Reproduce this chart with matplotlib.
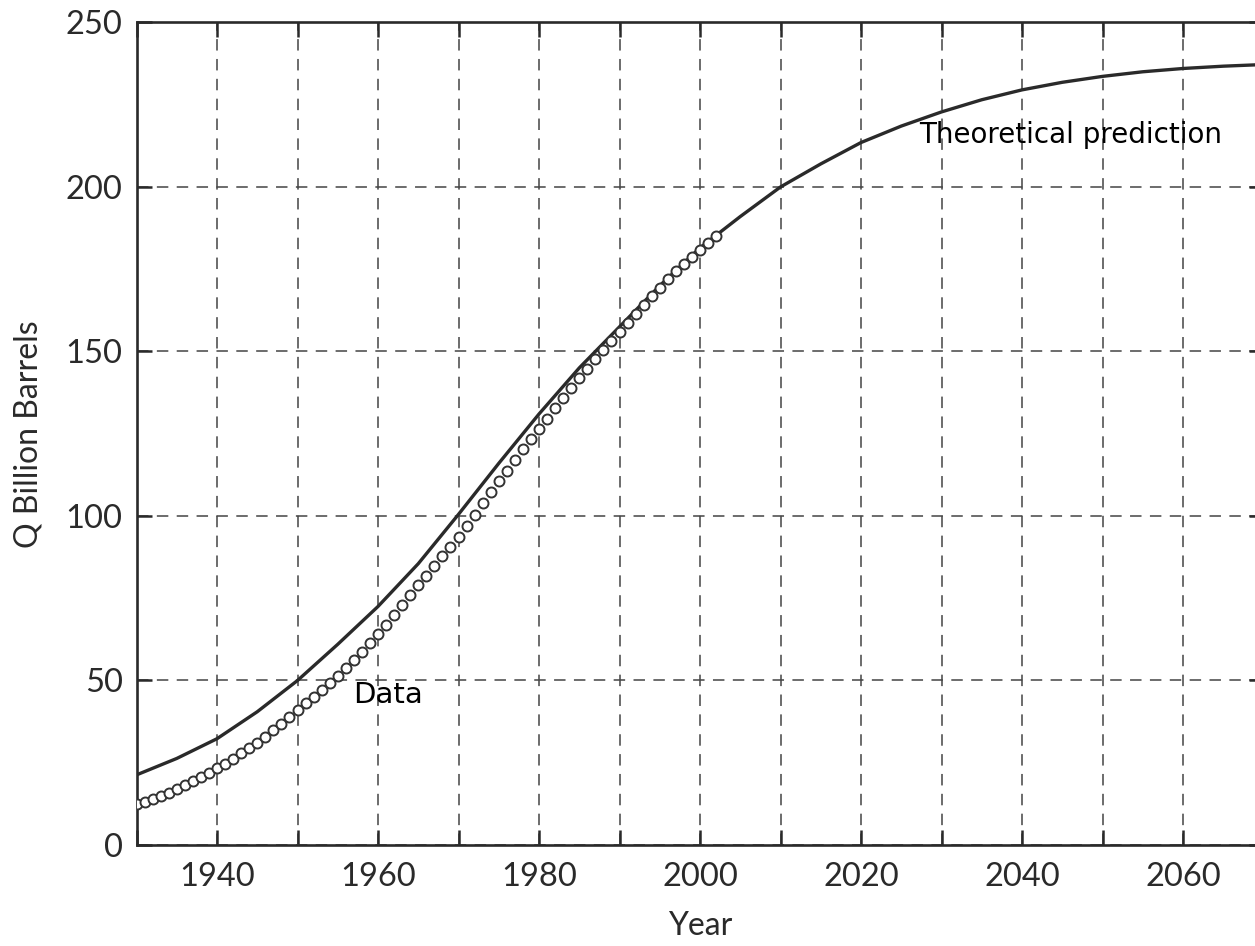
import numpy as np
import matplotlib.pyplot as plt

# Cumulative production data (one point per year, 1930-2002)
data_years = np.arange(1930, 2003)
data_q = [12.4, 13.2, 14.0, 14.9, 15.9, 17.0, 18.1, 19.3, 20.6, 21.9,
          23.3, 24.7, 26.2, 27.8, 29.4, 31.1, 32.9, 34.8, 36.8, 38.9,
          41.0, 43.0, 45.0, 47.1, 49.3, 51.5, 53.8, 56.2, 58.7, 61.3,
          64.0, 66.9, 69.8, 72.8, 75.9, 79.0, 81.9, 84.8, 87.7, 90.6,
          93.6, 97.0, 100.4, 103.8, 107.2, 110.6, 113.8, 117.0, 120.2, 123.4,
          126.5, 129.6, 132.7, 135.8, 138.9, 141.9, 144.8, 147.6, 150.4, 153.2,
          156.0, 158.7, 161.4, 164.1, 166.8, 169.4, 171.9, 174.3, 176.6, 178.8,
          180.9, 183.0, 185.0]

# Theoretical prediction (read every 5 years)
theory_years = np.arange(1930, 2075, 5)
theory_q = [21.3, 26.3, 32.3, 40.5, 50.0, 61.0, 72.5, 85.5, 100.5, 116.0,
            131.0, 145.0, 157.5, 170.0, 181.5, 191.0, 200.0, 207.0, 213.5, 218.5,
            222.8, 226.5, 229.5, 231.8, 233.6, 235.0, 236.0, 236.7, 237.2]

x_ticks = [1940, 1960, 1980, 2000, 2020, 2040, 2060]
y_ticks = [0, 50, 100, 150, 200, 250]

ink = '#2a2a2a'
tick_font = 'Lato'

fig = plt.figure(figsize=(12.55, 9.46), dpi=100)
# axes run slightly past the right edge, as in the cropped original
ax = fig.add_axes([0.1088, 0.1068, 0.898, 0.8695])

ax.plot(theory_years, theory_q, color=ink, lw=2.4, zorder=3)
ax.plot(data_years, data_q, ls='none', marker='o', ms=7.2, mfc='white',
        mec='#333333', mew=1.4, zorder=4)

ax.text(1956.9, 45.6, 'Data', fontsize=21, family='DejaVu Sans',
        ha='left', va='center', color='black')
ax.text(2027.2, 215.8, 'Theoretical prediction', fontsize=20,
        family='DejaVu Sans', ha='left', va='center', color='black')

ax.set_xlim(1930, 2070)
ax.set_ylim(0, 250)
ax.set_xticks(np.arange(1930, 2071, 10), minor=False)
ax.set_xticklabels(['' if y not in x_ticks else str(y)
                    for y in range(1930, 2071, 10)])
ax.set_yticks(y_ticks)
ax.set_yticklabels([str(v) for v in y_ticks])

ax.grid(True, color='#444444', lw=1.1, ls=(0, (7.5, 5.5)))
ax.tick_params(direction='in', length=11, width=1.8, color=ink,
               top=True, right=True, labelsize=23.5, labelcolor=ink, pad=12)
ax.tick_params(axis='y', pad=10)
for lab in ax.get_xticklabels() + ax.get_yticklabels():
    lab.set_family(tick_font)
for sp in ax.spines.values():
    sp.set_linewidth(1.9)
    sp.set_color(ink)

ax.set_xlabel('Year', fontsize=23, family=tick_font, color=ink, labelpad=14)
ax.set_ylabel('Q Billion Barrels', fontsize=23, family=tick_font, color=ink,
              labelpad=16)

fig.savefig('out.png', dpi=100)
